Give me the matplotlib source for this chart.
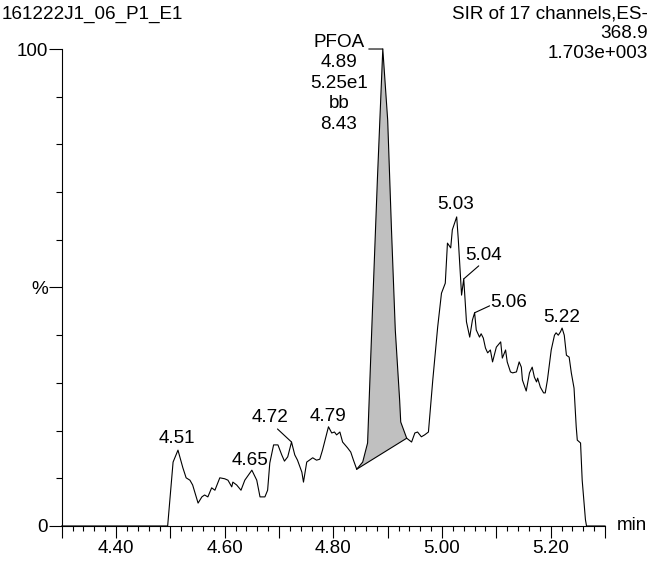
import numpy as np
import matplotlib.pyplot as plt
from matplotlib.ticker import FixedLocator, MultipleLocator

plt.rcParams['font.family'] = ['Liberation Sans', 'DejaVu Sans']
plt.rcParams['font.size'] = 13.6

# SIR trace (retention time in min, relative intensity in %)
times = [
    4.300, 4.495, 4.505, 4.514, 4.523, 4.529, 4.536, 4.541, 4.551, 4.558,
    4.563, 4.569, 4.576, 4.582, 4.591, 4.600, 4.606, 4.613, 4.615, 4.622,
    4.630, 4.637, 4.650, 4.659, 4.665, 4.674, 4.679, 4.683, 4.690, 4.698,
    4.705, 4.710, 4.716, 4.723, 4.729, 4.734, 4.742, 4.745, 4.751, 4.756,
    4.762, 4.769, 4.775, 4.780, 4.788, 4.791, 4.797, 4.802, 4.806, 4.812,
    4.817, 4.826, 4.832, 4.837, 4.843, 4.854, 4.863, 4.872, 4.881, 4.891,
    4.900, 4.907, 4.914, 4.922, 4.924, 4.935, 4.944, 4.950, 4.955, 4.962,
    4.968, 4.975, 4.983, 4.992, 4.999, 5.006, 5.010, 5.016, 5.019, 5.027,
    5.030, 5.036, 5.040, 5.045, 5.051, 5.056, 5.060, 5.063, 5.069, 5.072,
    5.076, 5.080, 5.084, 5.089, 5.093, 5.100, 5.108, 5.111, 5.117, 5.120,
    5.126, 5.130, 5.137, 5.142, 5.146, 5.148, 5.155, 5.161, 5.166, 5.170,
    5.174, 5.176, 5.181, 5.187, 5.190, 5.194, 5.201, 5.207, 5.210, 5.214,
    5.218, 5.221, 5.225, 5.229, 5.234, 5.238, 5.243, 5.247, 5.249, 5.255,
    5.258, 5.264, 5.266, 5.300,
]
intensity = [
    0.0, 0.0, 13.4, 15.9, 12.2, 10.1, 9.6, 8.6, 4.8, 6.1,
    6.5, 6.1, 8.0, 7.5, 10.1, 9.9, 9.6, 8.2, 9.2, 8.6,
    7.5, 9.6, 11.7, 9.6, 6.1, 6.1, 7.5, 13.2, 17.0, 17.0,
    14.9, 13.6, 14.5, 17.6, 14.9, 13.8, 11.3, 9.2, 13.4, 13.8,
    14.3, 13.8, 14.0, 15.9, 19.5, 20.8, 19.5, 19.7, 19.1, 19.7,
    17.6, 16.4, 15.5, 13.8, 11.9, 13.4, 17.4, 45.3, 72.5, 100.0,
    85.1, 62.1, 41.1, 26.4, 21.8, 18.4, 17.6, 19.5, 19.7, 18.7,
    19.1, 19.7, 30.6, 41.7, 48.8, 50.9, 59.3, 58.3, 62.1, 64.8,
    60.0, 48.4, 51.8, 42.8, 39.6, 43.2, 44.7, 41.1, 39.6, 40.3,
    39.4, 37.3, 36.3, 36.9, 34.4, 37.5, 38.6, 35.2, 36.9, 34.4,
    32.3, 32.1, 32.3, 34.4, 33.3, 30.6, 28.3, 32.1, 33.3, 31.2,
    30.2, 31.0, 29.1, 27.9, 27.9, 30.6, 36.9, 40.0, 40.5, 40.0,
    40.7, 41.5, 40.0, 35.8, 35.4, 32.1, 28.9, 20.8, 18.0, 17.4,
    9.6, 1.3, 0.0, 0.0,
]

# integrated PFOA peak
pfoa_start, pfoa_end = 4.843, 4.935
pfoa_rt = 4.89
pfoa_text = "PFOA\n4.89\n5.25e1\nbb\n8.43"

# apex labels
peak_labels = ["4.51", "4.65", "4.72", "4.79", "5.03", "5.04", "5.06", "5.22"]
# text offset and leader end (points), None = label sits right above apex
label_offsets = [(-0.7, 8.6), (-1.4, 7.2), (-15.1, 18.0), (0, 7.2),
                 (-0.7, 8.6), (14.4, 16.6), (24.5, 7.2), (0, 7.9)]
leader_ends = [None, None, (-10.1, 9.4), None,
               None, (10.8, 9.4), (10.8, 5.0), None]

header_left = "161222J1_06_P1_E1"
header_right = ["SIR of 17 channels,ES-", "368.9", "1.703e+003"]

t = np.array(times)
y = np.array(intensity)


def apex(rt, win=0.006):
    idx = np.where(np.abs(t - rt) <= win)[0]
    i = idx[np.argmax(y[idx])]
    return t[i], y[i]


fig = plt.figure(figsize=(6.53, 5.64), dpi=100)
ax = fig.add_axes([0.0945, 0.0674, 0.832, 0.8457])

# shaded integration area with straight baseline
m = (t >= pfoa_start - 1e-9) & (t <= pfoa_end + 1e-9)
ax.fill(t[m], y[m], color="#c0c0c0", lw=0)
ax.plot([t[m][0], t[m][-1]], [y[m][0], y[m][-1]], color="black", lw=0.8)

ax.plot(t, y, color="black", lw=0.8, clip_on=False)

for lab, off, lead in zip(peak_labels, label_offsets, leader_ends):
    px, py = apex(float(lab))
    ax.annotate(lab, xy=(px, py), xytext=off, textcoords="offset points",
                ha="center", va="center")
    if lead is not None:
        ax.annotate("", xy=(px, py), xytext=lead, textcoords="offset points",
                    arrowprops=dict(arrowstyle="-", lw=0.8, color="black",
                                    shrinkA=0, shrinkB=0))

px, py = apex(pfoa_rt)
ax.annotate(pfoa_text, xy=(px, py), xytext=(-31.5, -24.8),
            textcoords="offset points", ha="center", va="center",
            multialignment="center", linespacing=1.27)
ax.annotate("", xy=(px, py), xytext=(-10.1, 0), textcoords="offset points",
            arrowprops=dict(arrowstyle="-", lw=0.8, color="black",
                            shrinkA=0, shrinkB=0))

# axes styling
ax.set_xlim(4.30, 5.30)
ax.set_ylim(0, 100)
for s in ["top", "right"]:
    ax.spines[s].set_visible(False)
for s in ["left", "bottom"]:
    ax.spines[s].set_linewidth(0.8)

xmaj = np.round(np.arange(4.30, 5.301, 0.1), 2)
ax.xaxis.set_major_locator(FixedLocator(xmaj))
ax.set_xticklabels([f"{v:.2f}" if round(v * 10) % 2 == 0 else "" for v in xmaj])
ax.xaxis.set_minor_locator(MultipleLocator(0.02))
ax.yaxis.set_major_locator(FixedLocator([0, 50, 100]))
ax.set_yticklabels(["0", "%", "100"])
ax.yaxis.set_minor_locator(MultipleLocator(10))

ax.tick_params(axis="x", which="major", length=8.6, width=0.8, pad=1.5)
ax.tick_params(axis="x", which="minor", length=3.6, width=0.8)
ax.tick_params(axis="y", which="major", length=9.4, width=0.8, pad=0.5)
ax.tick_params(axis="y", which="minor", length=4.3, width=0.8)

ax.annotate("min", xy=(1, 0), xycoords="axes fraction", xytext=(8.6, 0),
            textcoords="offset points", ha="left", va="center")

fig.text(2 / 653, 1 - 14 / 564, header_left, ha="left", va="center")
for i, line in enumerate(header_right):
    fig.text(648 / 653, 1 - (14 + 19.5 * i) / 564, line, ha="right", va="center")

fig.savefig("out.png", dpi=100)
